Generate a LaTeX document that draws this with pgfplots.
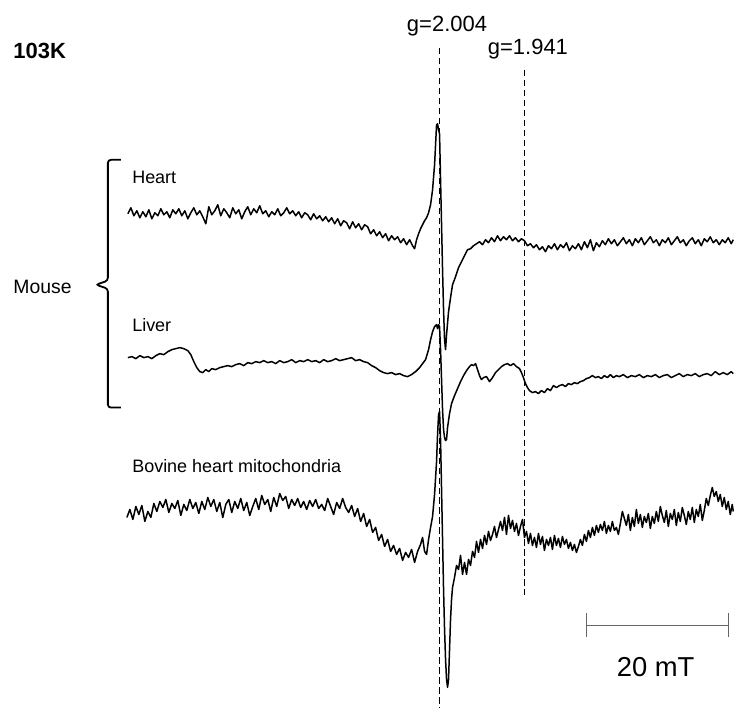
\documentclass[border=0pt]{standalone}
\usepackage{pgfplots}
\pgfplotsset{compat=1.18}
\usepackage{fontspec}
\setmainfont{Liberation Sans}

% traces in pixel units (x right, y down)
\pgfplotstableread{
x y
128 214
131 208
134 216
137 211
140 218
143 212
146 217
149 210
152 219
155 213
158 216
161 209
164 215
167 212
170 218
173 210
176 214
179 209
182 216
185 211
188 219
191 213
194 208
197 215
200 211
203 217
206 224
209 207
212 215
215 211
218 205
221 216
224 209
227 213
230 218
233 208
236 214
239 210
242 219
245 212
248 207
251 215
254 209
257 213
260 206
263 214
266 211
269 217
272 212
275 215
278 209
281 216
284 213
287 208
290 214
293 211
296 216
299 212
302 218
305 213
308 215
311 220
314 214
317 219
320 216
323 221
326 217
329 222
332 218
335 224
338 219
341 226
344 221
347 223
350 229
353 222
356 228
359 224
362 230
365 225
368 227
371 234
374 230
377 236
380 232
383 238
386 234
389 241
392 236
395 240
398 237
401 243
404 239
407 245
410 240
413 246
415 249
417 240
419 234
421 229
423 225
425 221
427 218
429 213
431 205
433 190
435 165
437 125
438 124
439 130
440 134
441 180
442 225
443 270
444 310
445 340
446 350
447 335
449 312
451 298
453 285
456 277
459 268
462 262
465 256
468 250
471 249
474 246
477 244
480 242
483 245
486 240
489 243
492 238
495 242
498 236
501 241
504 237
507 240
510 236
513 241
516 238
519 242
522 239
525 241
528 246
531 244
534 248
537 245
540 250
543 247
546 252
549 246
552 249
555 244
558 250
561 245
564 248
567 243
570 251
573 246
576 249
579 244
582 250
585 242
588 248
591 240
594 251
597 243
600 247
603 241
606 245
609 239
612 244
615 240
618 246
621 242
624 238
627 244
630 240
633 246
636 239
639 243
642 238
645 245
648 241
651 237
654 243
657 240
660 246
663 240
666 243
669 238
672 245
675 241
678 237
681 243
684 240
687 246
690 241
693 238
696 244
699 240
702 246
705 239
708 242
711 237
714 243
717 240
720 245
723 240
726 243
729 238
732 244
734 240
}\heart

\pgfplotstableread{
x y
128 358
132 357
136 359
140 356
144 358
148 357
152 359
156 356
160 354
164 355
168 352
172 350
176 349
180 348
184 349
188 351
191 355
194 362
197 368
200 372
203 373
206 370
209 372
212 369
216 370
220 368
224 367
228 366
232 367
236 365
240 364
244 366
248 363
252 364
256 362
260 363
264 361
268 363
272 362
276 364
280 361
284 363
288 362
292 360
296 363
300 361
304 362
308 360
312 362
316 361
320 363
324 360
328 362
332 361
336 359
340 361
344 360
348 359
352 358
356 361
360 360
364 362
368 363
372 366
376 368
380 371
384 373
388 374
392 373
396 375
400 374
404 376
408 377
412 375
416 372
420 368
423 364
426 360
429 350
431 340
433 332
435 327
437 325
438 329
439 325
440 327
441 350
442 380
443 410
444 430
445 438
446 441
447 440
448 428
450 414
452 404
455 396
458 389
461 382
464 376
467 371
470 367
472 365
474 366
476 364
478 370
480 376
482 380
484 378
487 377
490 382
493 378
496 373
499 370
502 367
505 365
508 364
511 366
514 364
517 367
520 369
522 373
524 378
526 384
528 388
530 391
533 393
536 392
539 394
542 391
545 393
548 389
551 391
554 386
557 388
560 386
563 385
566 387
569 384
572 385
575 383
578 384
581 382
584 381
587 379
590 378
593 376
596 378
599 377
602 379
605 376
608 378
611 375
614 378
617 376
620 377
624 375
628 378
632 376
636 377
640 375
644 378
648 376
652 377
656 375
660 378
664 376
668 375
672 378
676 376
680 374
684 377
688 375
692 376
696 374
700 377
704 375
708 374
712 376
716 372
720 375
724 373
728 375
732 372
734 374
}\liver

\pgfplotstableread{
x y
127 518
130 510
133 520
136 507
139 515
142 506
145 522
148 512
151 518
154 504
157 512
160 502
163 508
166 500
169 513
172 504
175 509
178 501
181 516
184 505
187 511
190 500
193 509
196 503
199 514
202 502
205 510
208 498
211 507
214 500
217 512
220 503
223 518
226 505
229 500
232 513
235 502
238 509
241 499
244 511
247 503
250 516
253 507
256 499
259 510
262 496
265 505
268 500
271 512
274 498
277 507
280 494
283 501
286 497
289 509
292 500
295 506
298 499
301 508
304 502
307 510
310 501
313 507
316 500
319 509
322 505
325 511
328 499
331 507
334 515
337 503
340 509
343 499
346 508
349 513
352 506
355 517
358 509
361 522
364 514
367 527
370 520
373 533
376 528
379 541
382 535
385 547
388 540
391 552
394 546
397 555
400 549
403 561
406 553
409 558
412 550
415 563
418 552
421 545
423 538
425 552
427 555
429 540
431 528
433 517
435 495
437 462
438 435
439 415
440 412
441 440
442 490
443 540
444 590
445 630
446 660
447 680
448 688
449 680
450 650
451 620
452 600
453 588
455 578
457 566
459 570
461 556
463 575
465 563
467 575
469 560
471 566
473 552
475 558
477 542
479 553
481 540
483 549
485 536
487 545
489 532
491 541
493 535
495 527
497 538
499 530
501 522
503 531
505 518
507 535
509 516
511 529
513 521
515 532
517 524
519 536
521 527
523 520
525 538
527 532
529 544
531 534
533 546
535 538
537 548
539 534
541 545
543 537
545 551
547 540
549 546
551 538
553 550
555 536
557 546
559 539
561 548
563 537
565 545
567 540
569 549
571 543
573 551
575 545
577 553
579 547
581 540
583 546
585 535
587 542
589 531
591 538
593 528
595 536
597 526
599 533
601 525
603 531
605 522
607 534
609 526
611 532
613 522
615 531
617 528
619 535
621 524
623 512
625 519
627 526
629 515
631 531
633 518
635 527
637 510
639 524
641 515
643 528
645 517
647 523
649 514
651 529
653 517
655 524
657 512
659 522
661 507
663 516
665 523
667 511
669 527
671 514
673 520
675 510
677 526
679 513
681 522
683 508
685 516
687 525
689 512
691 520
693 508
695 523
697 510
699 517
701 505
703 521
705 511
707 499
709 506
711 496
713 488
715 497
717 492
719 502
721 495
723 507
725 498
727 510
729 502
731 515
733 505
734 512
}\bovine

\begin{document}
\begin{tikzpicture}
\begin{axis}[
    width=367pt, height=354.5pt, scale only axis,
    xmin=0, xmax=734, ymin=0, ymax=709,
    y dir=reverse,
    hide axis, clip=false,
]
\path (axis cs:0,0) rectangle (axis cs:734,709);

\addplot[black, line width=0.75pt, line join=round] table {\heart};
\addplot[black, line width=0.75pt, line join=round] table {\liver};
\addplot[black, line width=0.75pt, line join=round] table {\bovine};

% g markers
\addplot[black, line width=0.9pt, dash pattern=on 3.2pt off 1.8pt] coordinates {(440,48) (440,709)};
\addplot[black, line width=0.9pt, dash pattern=on 3.2pt off 1.8pt] coordinates {(525,70) (525,596)};

% scale bar
\addplot[gray!80!black, line width=0.75pt] coordinates {(587,626) (729,626)};
\addplot[gray!80!black, line width=0.75pt] coordinates {(587,614) (587,638)};
\addplot[gray!80!black, line width=0.75pt] coordinates {(729,614) (729,638)};

% bracket
\draw[black, line width=0.9pt, rounded corners=1.5pt]
    (axis cs:121,160) -- (axis cs:108,160) -- (axis cs:108,281)
    -- (axis cs:96,285) -- (axis cs:108,289) -- (axis cs:108,408) -- (axis cs:121,408);

\node[anchor=base west, inner sep=0pt, font=\fontsize{11}{12}\selectfont\bfseries] at (axis cs:13,59) {103K};
\node[anchor=base west, inner sep=0pt, font=\fontsize{11}{12}\selectfont] at (axis cs:407,32) {g=2.004};
\node[anchor=base west, inner sep=0pt, font=\fontsize{11}{12}\selectfont] at (axis cs:488,55) {g=1.941};
\node[anchor=base west, inner sep=0pt, font=\fontsize{9}{10}\selectfont] at (axis cs:132,184) {Heart};
\node[anchor=base west, inner sep=0pt, font=\fontsize{9}{10}\selectfont] at (axis cs:132,332) {Liver};
\node[anchor=base west, inner sep=0pt, font=\fontsize{9}{10}\selectfont] at (axis cs:132,473) {Bovine heart mitochondria};
\node[anchor=base west, inner sep=0pt, font=\fontsize{9.7}{11}\selectfont] at (axis cs:13,294) {Mouse};
\node[anchor=base west, inner sep=0pt, font=\fontsize{13.7}{15}\selectfont] at (axis cs:617,677) {20 mT};
\end{axis}
\end{tikzpicture}
\end{document}
